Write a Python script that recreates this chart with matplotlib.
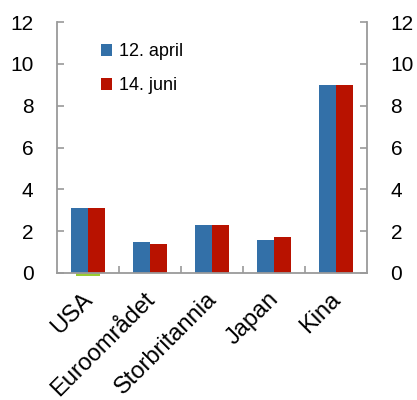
import numpy as np
import matplotlib.pyplot as plt

plt.rcParams['font.family'] = ['Liberation Sans', 'DejaVu Sans']

# Data
categories = ['USA', 'Euroområdet', 'Storbritannia', 'Japan', 'Kina']
april = [3.1, 1.5, 2.3, 1.6, 9.0]
juni = [3.1, 1.4, 2.3, 1.7, 9.0]
change = [-0.15, 0, 0, 0, 0]

BLUE = '#3370a8'
RED = '#b81200'
GREEN = '#9acd32'
GRAY = '#9a9a9a'

fig = plt.figure(figsize=(4.17, 4.0), dpi=100)
ax = fig.add_axes([0.1367, 0.3175, 0.7433, 0.6275])

x = np.arange(len(categories))
w = 0.28
ax.bar(x - w / 2, april, w, color=BLUE, label='12. april', zorder=2)
ax.bar(x + w / 2, juni, w, color=RED, label='14. juni', zorder=2)
ax.bar(x, change, 0.4, color=GREEN, zorder=1, clip_on=False)

ax.set_xlim(-0.5, 4.5)
ax.set_ylim(0, 12)
ax.set_yticks(range(0, 13, 2))
ax.set_xticks(x - 0.1)
ax.set_xticklabels(categories, rotation=45, ha='right', rotation_mode='anchor')
ax.set_xticks(np.arange(0.5, 4.5, 1), minor=True)

for s in ax.spines.values():
    s.set_color(GRAY)
    s.set_linewidth(1.3)
ax.spines['top'].set_visible(False)

ax.tick_params(axis='y', direction='in', length=5, color=GRAY, width=1.2,
               labelsize=15, pad=17, right=True, labelright=True)
ax.tick_params(axis='x', which='major', length=0, labelsize=17, pad=11)
ax.tick_params(axis='x', which='minor', direction='in', length=5, color=GRAY, width=1.2)

ax.legend(loc='upper left', bbox_to_anchor=(0.09, 0.98), frameon=False, fontsize=13,
          handlelength=0.6, handleheight=0.6, handletextpad=0.4, labelspacing=0.95)

fig.savefig('out.png', dpi=100)
